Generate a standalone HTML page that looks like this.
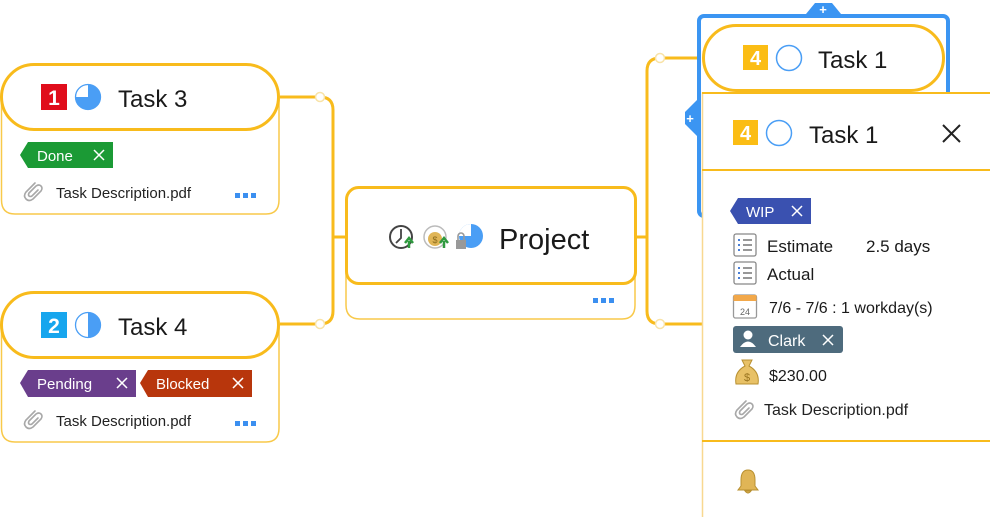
<!DOCTYPE html>
<html><head><meta charset="utf-8"><style>
body{margin:0;width:990px;height:517px;overflow:hidden;background:#fff;font-family:"Liberation Sans",sans-serif}
text{font-family:"Liberation Sans",sans-serif}
</style></head><body>
<svg width="990" height="517" viewBox="0 0 990 517" xmlns="http://www.w3.org/2000/svg">
<defs>
<g id="clip"><path d="M13 3 L4 12 Q1 16 4 19 Q7 22 11 19 L19 11 Q21 8 19 6 Q17 4 14 6 L7 13 Q6 15 7 16 Q8 17 10 16 L16 10" fill="none" stroke="#a8a8a8" stroke-width="1.6" stroke-linecap="round"/></g>
<g id="x"><path d="M-5 -5 L5 5 M5 -5 L-5 5" stroke="#fff" stroke-width="1.5"/></g>
</defs>
<!-- connectors -->
<g fill="none" stroke="#f8bb1c" stroke-width="3">
<path d="M280 97 H320 Q333 97 333 110 V311 Q333 324 320 324 H280"/>
<path d="M333 237 H345"/>
<path d="M636 237 H647"/>
<path d="M700 58 H660 Q647 58 647 71 V311 Q647 324 660 324 H705"/>
</g>
<g fill="#fff" stroke="#f8e3a8" stroke-width="1.5">
<circle cx="320" cy="97" r="4.5"/><circle cx="320" cy="324" r="4.5"/>
<circle cx="660" cy="58" r="4.5"/><circle cx="660" cy="324" r="4.5"/>
</g>

<!-- Task 3 -->
<path d="M1.5 98 V200 Q1.5 214 15 214 H266 Q279 214 279 200 V98" fill="#fff" stroke="#f8c94a" stroke-width="1.5"/>
<rect x="1.5" y="64.5" width="277" height="65" rx="32.5" fill="#fff" stroke="#f8bb1c" stroke-width="3"/>
<rect x="41" y="84" width="26" height="26" fill="#e00d1b"/><text x="54" y="105" font-size="21" font-weight="bold" fill="#fff" text-anchor="middle">1</text>
<circle cx="88" cy="97" r="12.5" fill="#4a9ef5"/><path d="M88 97 V84.5 A12.5 12.5 0 0 0 75.5 97 Z" fill="#fff"/><circle cx="88" cy="97" r="12.5" fill="none" stroke="#4a9ef5" stroke-width="1.3"/>
<text x="118" y="107" font-size="24" fill="#1a1a1a">Task 3</text>
<path d="M20 155 L28 142 H113 V168 H28 Z" fill="#1b9a35"/>
<text x="37" y="161" font-size="15" fill="#fff">Done</text><use href="#x" x="99" y="155"/>
<use href="#clip" x="22" y="180"/>
<text x="56" y="198" font-size="15" fill="#222">Task Description.pdf</text>
<g fill="#3b8ff0"><rect x="235" y="193" width="5" height="5"/><rect x="243" y="193" width="5" height="5"/><rect x="251" y="193" width="5" height="5"/></g>

<!-- Task 4 -->
<path d="M1.5 326 V428 Q1.5 442 15 442 H266 Q279 442 279 428 V326" fill="#fff" stroke="#f8c94a" stroke-width="1.5"/>
<rect x="1.5" y="292.5" width="277" height="65" rx="32.5" fill="#fff" stroke="#f8bb1c" stroke-width="3"/>
<rect x="41" y="312" width="26" height="26" fill="#17a6ee"/><text x="54" y="333" font-size="21" font-weight="bold" fill="#fff" text-anchor="middle">2</text>
<circle cx="88" cy="325" r="12.5" fill="#fff" stroke="#4a9ef5" stroke-width="1.3"/><path d="M88 312.5 A12.5 12.5 0 0 1 88 337.5 Z" fill="#4a9ef5"/>
<text x="118" y="335" font-size="24" fill="#1a1a1a">Task 4</text>
<path d="M20 383 L28 370 H136 V397 H28 Z" fill="#6a3e8c"/>
<text x="37" y="389" font-size="15" fill="#fff">Pending</text><use href="#x" x="122" y="383"/>
<path d="M140 383 L148 370 H252 V397 H148 Z" fill="#b8360c"/>
<text x="156" y="389" font-size="15" fill="#fff">Blocked</text><use href="#x" x="238" y="383"/>
<use href="#clip" x="22" y="408"/>
<text x="56" y="426" font-size="15" fill="#222">Task Description.pdf</text>
<g fill="#3b8ff0"><rect x="235" y="421" width="5" height="5"/><rect x="243" y="421" width="5" height="5"/><rect x="251" y="421" width="5" height="5"/></g>

<!-- Project -->
<path d="M346 260 V305 Q346 319 360 319 H622 Q635 319 635 305 V260" fill="#fff" stroke="#f8c94a" stroke-width="1.5"/>
<rect x="346.5" y="187.5" width="289" height="96" rx="12" fill="#fff" stroke="#f8bb1c" stroke-width="3"/>
<circle cx="401" cy="237" r="11" fill="none" stroke="#444" stroke-width="2"/><path d="M401 229 V238 L396 243" fill="none" stroke="#444" stroke-width="1.8"/>
<path d="M409 248 V241 M405 243 L409 238 L413 243" stroke="#2e9a3e" stroke-width="2.5" fill="none"/>
<circle cx="435" cy="237" r="11" fill="none" stroke="#bbb" stroke-width="1.5"/><ellipse cx="435" cy="239" rx="7" ry="7" fill="#e0b556"/><text x="435" y="243" font-size="9" fill="#8a6a1a" text-anchor="middle">$</text>
<path d="M444 248 V241 M440 243 L444 238 L448 243" stroke="#2e9a3e" stroke-width="2.5" fill="none"/>
<circle cx="471" cy="236" r="12" fill="#4a9ef5"/><path d="M471 236 V224 A12 12 0 0 0 459 236 Z" fill="#fff"/>
<rect x="456" y="240" width="10" height="9" fill="#999"/><path d="M458 240 V236 A3 3 0 0 1 464 236 V240" fill="none" stroke="#999" stroke-width="1.6"/>
<text x="499" y="249" font-size="29" fill="#1a1a1a">Project</text>
<g fill="#3b8ff0"><rect x="593" y="298" width="5" height="5"/><rect x="601" y="298" width="5" height="5"/><rect x="609" y="298" width="5" height="5"/></g>

<!-- selection box -->
<path d="M806 14 L815 3 H832 L841 14 Z" fill="#3b95f2"/><text x="823" y="14" font-size="13" font-weight="bold" fill="#fff" text-anchor="middle">+</text>
<path d="M697 100 L685 112 V124 L697 136 Z" fill="#3b95f2"/><text x="690" y="123" font-size="13" font-weight="bold" fill="#fff" text-anchor="middle">+</text>
<rect x="699" y="16" width="249" height="200" rx="5" fill="#fff" stroke="#3b95f2" stroke-width="4"/>
<rect x="703.5" y="25.5" width="240" height="65" rx="32.5" fill="#fff" stroke="#f8bb1c" stroke-width="3"/>
<rect x="743" y="45" width="25" height="25" fill="#fbbd14"/><text x="755.5" y="65" font-size="20" font-weight="bold" fill="#fff" text-anchor="middle">4</text>
<circle cx="789" cy="58" r="12.5" fill="#fff" stroke="#4a9ef5" stroke-width="1.5"/>
<text x="818" y="68" font-size="24" fill="#1a1a1a">Task 1</text>

<!-- panel -->
<rect x="702.5" y="93" width="290" height="426" fill="#fff" stroke="#f8d890" stroke-width="1.5"/>
<line x1="702" y1="93" x2="990" y2="93" stroke="#f8bb1c" stroke-width="2"/>
<line x1="702" y1="170" x2="990" y2="170" stroke="#f8bb1c" stroke-width="2"/>
<line x1="702" y1="441" x2="990" y2="441" stroke="#f8bb1c" stroke-width="2"/>
<rect x="733" y="120" width="25" height="25" fill="#fbbd14"/><text x="745.5" y="140" font-size="20" font-weight="bold" fill="#fff" text-anchor="middle">4</text>
<circle cx="779" cy="133" r="12.5" fill="#fff" stroke="#4a9ef5" stroke-width="1.5"/>
<text x="809" y="143" font-size="24" fill="#1a1a1a">Task 1</text>
<path d="M943 125 L960 142 M960 125 L943 142" stroke="#222" stroke-width="2"/>

<path d="M730 211 L738 198 H811 V224 H738 Z" fill="#3a51b0"/>
<text x="746" y="217" font-size="15" fill="#fff">WIP</text><use href="#x" x="797" y="211"/>

<g fill="none" stroke="#888" stroke-width="1.3"><rect x="734" y="234" width="22" height="22" rx="2"/><rect x="734" y="262" width="22" height="22" rx="2"/></g>
<g stroke="#4a7fd6" stroke-width="2"><path d="M738 240h2M738 245h2M738 250h2M738 268h2M738 273h2M738 278h2"/></g>
<g stroke="#777" stroke-width="1.5"><path d="M743 240h9M743 245h9M743 250h9M743 268h9M743 273h9M743 278h9"/></g>
<text x="767" y="252" font-size="17" fill="#1a1a1a">Estimate</text><text x="866" y="252" font-size="17" fill="#1a1a1a">2.5 days</text>
<text x="767" y="280" font-size="17" fill="#1a1a1a">Actual</text>
<rect x="733.5" y="295" width="23" height="23" rx="2" fill="#fff" stroke="#999" stroke-width="1.3"/><rect x="733.5" y="295" width="23" height="6" fill="#f2a84a"/>
<text x="745" y="315" font-size="9" fill="#666" text-anchor="middle">24</text>
<text x="769" y="313" font-size="16" fill="#1a1a1a">7/6 - 7/6 : 1 workday(s)</text>
<rect x="733" y="326" width="110" height="27" rx="3" fill="#4e6b7d"/>
<circle cx="748" cy="335" r="4.5" fill="#fff"/><path d="M740 347 Q748 336 756 347 Z" fill="#fff"/>
<text x="768" y="346" font-size="16" fill="#fff">Clark</text><use href="#x" x="828" y="340"/>
<path d="M742 360 H752 L749 366 Q760 372 758 384 H736 Q734 372 745 366 Z" fill="#e8c166" stroke="#b89030" stroke-width="1"/>
<text x="747" y="381" font-size="11" fill="#9a7520" text-anchor="middle">$</text>
<text x="769" y="381" font-size="16" fill="#1a1a1a">$230.00</text>
<use href="#clip" x="733" y="398"/>
<text x="764" y="415" font-size="16" fill="#222">Task Description.pdf</text>
<path d="M748 470 Q741 470 741 480 V486 L738 490 H758 L755 486 V480 Q755 470 748 470 Z M745 491 Q748 495 751 491 Z" fill="#e0b556" stroke="#b89030" stroke-width="1"/>
</svg>
</body></html>
